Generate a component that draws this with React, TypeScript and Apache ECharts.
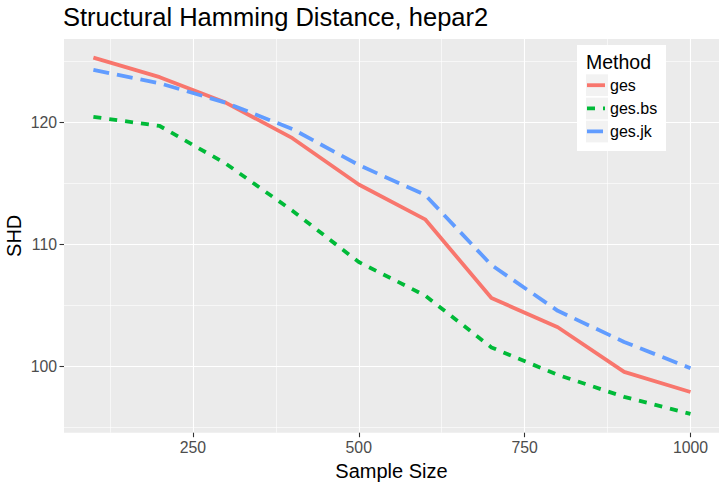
import React, { useEffect, useRef } from "react";
import * as echarts from "echarts";

const sampleSizes = [100, 200, 300, 400, 500, 600, 700, 800, 900, 1000];
const gesValues = [125.3, 123.7, 121.6, 118.7, 114.9, 112.05, 105.6, 103.2, 99.55, 97.9];
const gesBsValues = [120.45, 119.7, 116.6, 112.75, 108.55, 105.8, 101.55, 99.3, 97.5, 96.1];
const gesJkValues = [124.3, 123.2, 121.6, 119.45, 116.5, 114.05, 108.3, 104.55, 102.0, 99.85];
const seriesNames = ["ges", "ges.bs", "ges.jk"];
const xMajorTicks = [250, 500, 750, 1000];
const xMinorTicks = [125, 375, 625, 875];
const yMajorTicks = [100, 110, 120];
const yMinorTicks = [95, 105, 115, 125];

const FONT = "'Liberation Sans', Arial, sans-serif";
const COLORS = ["#F8766D", "#00BA38", "#619CFF"];
const DASHES: any[] = ["solid", [8, 8], [16, 8]];
const LEGEND_ICONS = [
  "path://M0,0h18v3.8h-18z",
  "path://M0,0h8v3.8h-8z M16,0h2v3.8h-2z",
  "path://M0,0h16v3.8h-16z M18,0h0v3.8h0z",
];

export default function App() {
  const ref = useRef<HTMLDivElement>(null);
  useEffect(() => {
    document.body.style.margin = "0";
    if (!ref.current) return;
    const chart = echarts.init(ref.current, undefined, { renderer: "svg" });
    const X_MIN = 55.7, X_MAX = 1043;
    const Y_MIN = 94.56, Y_MAX = 126.83;
    const valuesList = [gesValues, gesBsValues, gesJkValues];
    const series = seriesNames.map((name, i) => ({
      name,
      type: "line",
      xAxisIndex: 0,
      yAxisIndex: 0,
      data: sampleSizes.map((s, j) => [s, valuesList[i][j]]),
      symbol: "none",
      showSymbol: false,
      z: 3,
      lineStyle: { color: COLORS[i], width: 3.8, type: DASHES[i], cap: "butt" },
      itemStyle: { color: COLORS[i] },
    }));
    const hiddenAxisBits = {
      axisLine: { show: false },
      axisLabel: { show: false },
    };
    chart.setOption({
      animation: false,
      textStyle: { fontFamily: FONT },
      title: [
        {
          text: "Structural Hamming Distance, hepar2",
          left: 63,
          top: 4,
          padding: 0,
          textStyle: { fontFamily: FONT, fontSize: 25.5, fontWeight: "normal", color: "#000" },
        },
        {
          text: "Method",
          left: 586,
          top: 52,
          padding: 0,
          z: 10,
          textStyle: { fontFamily: FONT, fontSize: 19.5, fontWeight: "normal", color: "#000" },
        },
      ],
      graphic: [
        { type: "rect", z: 5, shape: { x: 577, y: 45, width: 89, height: 106 }, style: { fill: "#FFFFFF" } },
        { type: "rect", z: 6, shape: { x: 586, y: 74.3, width: 22, height: 21.7 }, style: { fill: "#F2F2F2" } },
        { type: "rect", z: 6, shape: { x: 586, y: 97.7, width: 22, height: 21.7 }, style: { fill: "#F2F2F2" } },
        { type: "rect", z: 6, shape: { x: 586, y: 120.7, width: 22, height: 21.7 }, style: { fill: "#F2F2F2" } },
      ],
      legend: {
        data: seriesNames.map((name, i) => ({
          name,
          icon: LEGEND_ICONS[i],
          itemStyle: { color: COLORS[i] },
        })),
        orient: "vertical",
        left: 587,
        top: 77.2,
        padding: 0,
        itemWidth: 18,
        itemHeight: 22,
        itemGap: 7.1,
        symbolKeepAspect: true,
        z: 10,
        selectedMode: false,
        textStyle: { fontFamily: FONT, fontSize: 16, color: "#000" },
      },
      grid: {
        left: 64,
        right: 9,
        top: 39,
        bottom: 54.3,
        show: true,
        backgroundColor: "#EBEBEB",
        borderWidth: 0,
        containLabel: false,
        outerBoundsMode: "none",
      },
      xAxis: [
        {
          type: "value",
          min: X_MIN,
          max: X_MAX,
          name: "Sample Size",
          nameLocation: "middle",
          nameGap: 28,
          nameMoveOverlap: false,
          nameTextStyle: { fontFamily: FONT, fontSize: 20, color: "#000" },
          axisLine: { show: false },
          axisTick: { show: true, length: 4.5, customValues: xMajorTicks, lineStyle: { color: "#333333", width: 1.1 } },
          axisLabel: {
            customValues: xMajorTicks,
            formatter: (v: number) => String(v),
            margin: 7,
            fontFamily: FONT,
            fontSize: 15.8,
            color: "#4D4D4D",
          },
          splitLine: { show: true, lineStyle: { color: "#FFFFFF", width: 1.1 } },
        },
        {
          type: "value",
          min: X_MIN,
          max: X_MAX,
          position: "bottom",
          ...hiddenAxisBits,
          axisTick: { show: false, customValues: xMinorTicks },
          splitLine: { show: true, lineStyle: { color: "#FFFFFF", width: 0.6 } },
        },
      ],
      yAxis: [
        {
          type: "value",
          min: Y_MIN,
          max: Y_MAX,
          name: "SHD",
          nameLocation: "middle",
          nameGap: 40,
          nameMoveOverlap: false,
          nameRotate: 90,
          nameTextStyle: { fontFamily: FONT, fontSize: 20, color: "#000" },
          axisLine: { show: false },
          axisTick: { show: true, length: 4.5, customValues: yMajorTicks, lineStyle: { color: "#333333", width: 1.1 } },
          axisLabel: {
            customValues: yMajorTicks,
            formatter: (v: number) => String(v),
            margin: 7,
            fontFamily: FONT,
            fontSize: 15.8,
            color: "#4D4D4D",
          },
          splitLine: { show: true, lineStyle: { color: "#FFFFFF", width: 1.1 } },
        },
        {
          type: "value",
          min: Y_MIN,
          max: Y_MAX,
          position: "left",
          ...hiddenAxisBits,
          axisTick: { show: false, customValues: yMinorTicks },
          splitLine: { show: true, lineStyle: { color: "#FFFFFF", width: 0.6 } },
        },
      ],
      series,
    });
    return () => chart.dispose();
  }, []);
  return (
    <div
      ref={ref}
      style={{ position: "absolute", left: 0, top: 0, width: 728, height: 487, background: "#FFFFFF" }}
    />
  );
}
